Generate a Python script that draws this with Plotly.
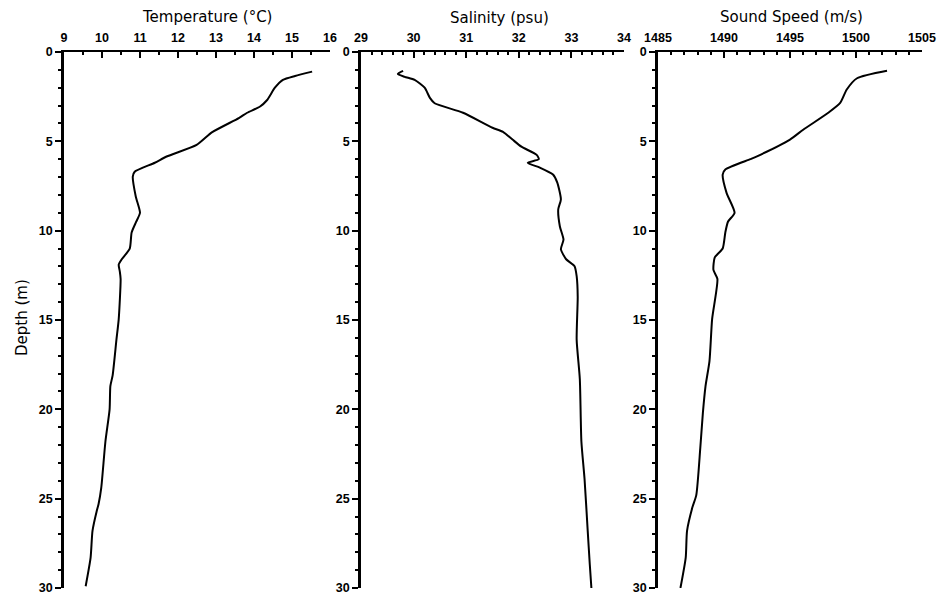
import plotly.graph_objects as go

# ---- data ----
temp_depth = [1.1, 1.34, 1.56, 2.0, 2.7, 3.05, 3.4, 3.7, 4.5, 5.2, 5.85, 6.2, 6.7, 6.97, 8.1, 9.0, 9.5,
              10.1, 11.0, 11.6, 11.9, 12.3, 12.7, 14.95, 16.1, 18.1, 18.7, 20.0, 21.8, 24.4, 25.3,
              25.7, 26.8, 28.3, 29.9]
temp_vals = [15.53, 15.08, 14.76, 14.55, 14.34, 14.16, 13.82, 13.60, 12.89, 12.49, 11.70, 11.39, 10.86,
             10.81, 10.89, 11.0, 10.9, 10.78, 10.73, 10.52, 10.44, 10.47, 10.49, 10.44, 10.38, 10.28,
             10.22, 10.2, 10.09, 9.98, 9.91, 9.86, 9.75, 9.70, 9.57]

sal_depth = [1.06, 1.23, 1.39, 1.56, 2.0, 2.57, 2.87, 3.4, 4.24, 4.47, 4.9, 5.3, 5.76, 6.0, 6.2, 6.47,
             6.86, 7.3, 8.25, 8.8, 9.75, 10.5, 11.04, 11.6, 11.99, 12.55, 13.7, 16.1, 18.3, 21.8,
             23.9, 26.8, 28.7, 30.0]
sal_vals = [29.80, 29.70, 29.83, 30.02, 30.21, 30.31, 30.40, 30.94, 31.50, 31.70, 31.88, 32.05, 32.34,
            32.38, 32.17, 32.40, 32.65, 32.73, 32.80, 32.75, 32.78, 32.85, 32.80, 32.90, 33.06, 33.10,
            33.12, 33.10, 33.16, 33.19, 33.25, 33.31, 33.35, 33.38]

snd_depth = [1.05, 1.47, 2.1, 2.85, 3.4, 4.35, 4.9, 5.84, 6.0, 6.58, 6.86, 7.9, 9.0, 9.5, 10.1, 11.0,
             11.5, 12.2, 12.7, 14.95, 17.3, 18.7, 20.2, 22.2, 24.8, 25.5, 26.8, 28.3, 30.0]
snd_vals = [1502.35, 1500.08, 1499.3, 1498.8, 1497.9, 1496.0, 1495.0, 1492.5, 1492.0, 1490.1, 1489.9,
            1490.2, 1490.8, 1490.3, 1490.1, 1489.9, 1489.3, 1489.2, 1489.5, 1489.1, 1488.9, 1488.6,
            1488.4, 1488.2, 1487.9, 1487.6, 1487.2, 1487.1, 1486.7]

titles = ["Temperature (°C)", "Salinity (psu)", "Sound Speed (m/s)"]
x_ranges = [[9, 16], [29, 34], [1485, 1505]]
x_dticks = [1, 1, 5]
x_minor = [0.5, 0.2, 1]
depth_ticks = [0, 5, 10, 15, 20, 25, 30]

W, H = 937, 594
x_px = [(64, 330), (361, 624), (658, 922)]
y_top, y_bot = 52, 588
title_pos = [(207, 17), (500, 18), (791, 17)]

fig = go.Figure()
series = [(temp_vals, temp_depth), (sal_vals, sal_depth), (snd_vals, snd_depth)]
tickfont = dict(family="Liberation Sans", size=12.5, color="black", weight="bold")

for i, (xv, yv) in enumerate(series):
    n = "" if i == 0 else str(i + 1)
    fig.add_trace(go.Scatter(x=xv, y=yv, mode="lines", line=dict(color="black", width=2),
                             line_shape="spline", line_smoothing=0.6,
                             xaxis="x" + n, yaxis="y" + n, showlegend=False))
    fig.layout["xaxis" + n] = dict(
        domain=[x_px[i][0] / W, x_px[i][1] / W], range=x_ranges[i], side="top",
        anchor="y" + n, showgrid=False, zeroline=False, showline=True, linecolor="black",
        linewidth=2, ticks="inside", ticklen=6, tickwidth=2, tickcolor="black",
        dtick=x_dticks[i], tick0=x_ranges[i][0], tickfont=tickfont, ticklabelstandoff=3,
        ticklabeloverflow="allow", automargin=False,
        minor=dict(dtick=x_minor[i], ticks="inside", ticklen=3, tickwidth=2, tickcolor="black",
                   showgrid=False))
    fig.layout["yaxis" + n] = dict(
        domain=[1 - y_bot / H, 1 - y_top / H], range=[30, 0], anchor="x" + n,
        showgrid=False, zeroline=False, showline=True, linecolor="black", linewidth=2.5,
        ticks="outside", ticklen=6, tickwidth=2, tickcolor="black",
        tickvals=depth_ticks, tickfont=tickfont, ticklabeloverflow="allow", automargin=False,
        minor=dict(dtick=1, ticks="outside", ticklen=3, tickwidth=2, tickcolor="black",
                   showgrid=False))
    fig.add_annotation(text=titles[i], x=title_pos[i][0] / W, y=1 - title_pos[i][1] / H,
                       xref="paper", yref="paper", showarrow=False, xanchor="center",
                       yanchor="middle", borderpad=0,
                       font=dict(family="DejaVu Sans", size=15, color="black"))

fig.add_annotation(text="Depth (m)", x=22 / W, y=1 - 318 / H, xref="paper", yref="paper",
                   showarrow=False, textangle=-90, xanchor="center", yanchor="middle",
                   font=dict(family="DejaVu Sans", size=15, color="black"))

fig.update_layout(width=W, height=H, margin=dict(l=0, r=0, t=0, b=0, autoexpand=False),
                  paper_bgcolor="white", plot_bgcolor="white")

fig.write_html("out.html")
